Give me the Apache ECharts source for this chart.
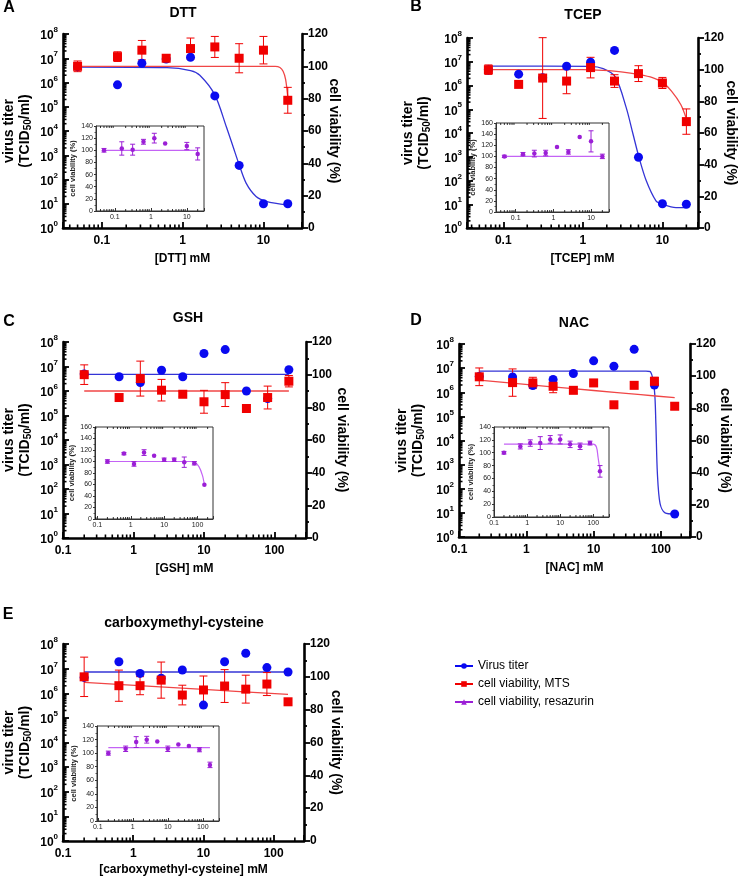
<!DOCTYPE html>
<html>
<head>
<meta charset="utf-8">
<title>Virus titer and cell viability</title>
<script src="https://cdn.jsdelivr.net/npm/echarts@6.0.0/dist/echarts.min.js"></script>
<style>
  html, body { margin: 0; padding: 0; background: #fff; }
  #chart { width: 738px; height: 877px; }
</style>
</head>
<body>
<div id="chart"></div>
<script>
// concentrations (mM)
const concDTT = [0.05, 0.156, 0.3125, 0.625, 1.25, 2.5, 5, 10, 20];
const concTCEP = [0.065, 0.156, 0.3125, 0.625, 1.25, 2.5, 5, 10, 20];
const concInsetDTT = [0.05, 0.156, 0.3125, 0.625, 1.25, 2.5, 10, 20];
const concInsetTCEP = [0.05, 0.156, 0.3125, 0.625, 1.25, 2.5, 5, 10, 20];
const concThiol = [0.2, 0.625, 1.25, 2.5, 5, 10, 20, 40, 80, 160];

// A - DTT
const titerDTT = [4.5e6, 8e5, 6.2e6, 9.3e6, 1.1e7, 2.8e5, 380, 10, 10];
const mtsDTT = [100, 106, 110, 105, 111, 112, 105, 110, 79];
const mtsErrDTT = [3.3, 3, 6, 2, 6.5, 6.5, 9, 8.5, 8];
const resDTT = [100, 103, 101, 114, 120, 111, 107, 94];
const resErrDTT = [3, 11, 9, 4, 8, 0, 6, 10];
const titerFitDTT = [[0.05, 4.3e6], [0.64, 4.1e6], [1.25, 3.1e6], [1.63, 2e6], [2.5, 3.1e5], [3.47, 1.5e4], [4.2, 2.3e3], [5, 410], [6.1, 71], [8.1, 20], [10.8, 12.6], [20, 8.7]];
const mtsFitDTT = [[0.05, 100], [14, 100], [16, 99.3], [17.5, 97], [18.8, 92], [20, 81]];
const resFitDTT = [[0.05, 100], [20, 100]];

// B - TCEP
const titerTCEP = [4.6e6, 3e6, 2.1e6, 6.5e6, 9.5e6, 3e7, 950, 10.5, 10];
const mtsTCEP = [100, 90.7, 94.7, 92.8, 101.3, 92.8, 97.5, 91.6, 67.2];
const mtsErrTCEP = [3, 0, 25.5, 8, 6.5, 4, 5, 3.5, 8];
const resTCEP = [100, 104, 105, 106, 117, 108, 135, 127, 100];
const resErrTCEP = [2, 3, 6, 5, 0, 4, 0, 19, 4];
const titerFitTCEP = [[0.065, 6.6e6], [1.25, 6.4e6], [1.8, 5.1e6], [2.56, 2.3e6], [3.5, 1.2e5], [4.26, 9.3e3], [5.06, 980], [6.25, 100], [8.3, 14], [10, 10], [14.8, 7.2], [20, 7.2]];
const mtsFitTCEP = [[0.065, 100], [1, 100], [1.8, 99.5], [3.2, 98.5], [5, 97], [7.5, 95], [10, 92], [13, 86.5], [17, 78], [20, 69]];
const resFitTCEP = [[0.05, 100], [20, 100]];

// C - GSH
const titerGSH = [5e6, 3.8e6, 2.2e6, 7e6, 3.8e6, 3.4e7, 4.9e7, 1e6, 4.9e5, 7.4e6];
const mtsGSH = [100, 86, 97.6, 90.5, 88, 83.4, 87.8, 79.3, 86, 96];
const mtsErrGSH = [6, 0, 10.7, 6.6, 1.5, 7, 7.3, 0, 7, 3.5];
const resGSH = [100, 113.7, 95.8, 115.5, 110, 103, 103, 98.8, 97, 59.5];
const resErrGSH = [3, 2, 4, 5, 0, 3, 3, 9, 3, 0];
const titerFitGSH = [[0.2, 4.8e6], [160, 4.8e6]];
const mtsFitGSH = [[0.2, 90], [160, 90]];
const resFitGSH = [[0.2, 100], [60, 100], [80, 99], [110, 91], [140, 76], [160, 60]];

// D - NAC
const titerNAC = [4.5e6, 4.3e6, 1.9e6, 3.4e6, 6e6, 2e7, 1.2e7, 6e7, 2e6, 9];
const mtsNAC = [99.6, 96, 95.8, 93.7, 91.2, 95.8, 82.2, 94.3, 96.8, 81.3];
const mtsErrNAC = [5.5, 8.5, 3.5, 4, 2, 0, 0, 0, 2.5, 2];
const resNAC = [100, 109.8, 115, 115, 120.7, 120.7, 113, 110, 115, 71];
const resErrNAC = [2, 4, 5, 10, 6, 7, 5, 5, 3, 9];
const titerFitNAC = [[0.2, 7.5e6], [60, 7.5e6], [70, 7e6], [80, 1.2e6], [84, 5e4], [88.5, 430], [97, 24], [115, 10], [160, 9]];
const mtsFitNAC = [[0.2, 97.5], [2, 93.7], [10, 91.1], [50, 88.5], [160, 86.6]];
const resFitNAC = [[0.2, 113.5], [100, 113.5], [125, 109], [140, 93], [160, 72.5]];

// E - carboxymethyl-cysteine
const titerCMC = [4.4e6, 1.9e7, 6.4e6, 4.1e6, 8.8e6, 3.3e5, 1.9e7, 4.2e7, 1.1e7, 7.3e6];
const mtsCMC = [100, 94.6, 94.6, 98, 88.9, 92, 94.4, 92.5, 95.6, 84.8];
const mtsErrCMC = [12, 9.5, 5.5, 11, 6, 8.5, 10, 8.5, 7, 2];
const resCMC = [100, 106.4, 116.3, 119.8, 117.3, 106.4, 112.8, 110.4, 105, 82.7];
const resErrCMC = [3, 4, 8, 5, 0, 4, 0, 0, 3, 4];
const titerFitCMC = [[0.2, 7.3e6], [160, 7.3e6]];
const mtsFitCMC = [[0.2, 96.6], [10, 92.3], [160, 89.3]];
const resFitCMC = [[0.2, 108], [160, 108]];

const legendNames = ['Virus titer', 'cell viability, MTS', 'cell viability, resazurin'];

const FONT = '"Liberation Sans", Arial, Helvetica, sans-serif';
const BLUE = '#0a0af0', BLUE_LINE = '#3434d6';
const RED = '#f00000', RED_LINE = '#f04646';
const PURPLE = '#9b1fd6', PURPLE_LINE = '#c463f5';

// gaps: [left name, right name, x name]
const panels = [
  { letter: 'A', title: 'DTT', xName: '[DTT] mM', letterPos: [9, 8], titlePos: [183, 13],
    main: { left: 63, top: 34, width: 239, height: 194 }, xRange: [0.033, 30], gaps: [30, 25, 25],
    inset: { left: 96, top: 126, width: 108, height: 85 }, insetX: [0.03, 30], insetYMax: 140,
    conc: concDTT, titer: titerDTT, mts: mtsDTT, mtsErr: mtsErrDTT, titerFit: titerFitDTT, mtsFit: mtsFitDTT,
    insetConc: concInsetDTT, res: resDTT, resErr: resErrDTT, resFit: resFitDTT },
  { letter: 'B', title: 'TCEP', xName: '[TCEP] mM', letterPos: [416, 7], titlePos: [583, 15],
    main: { left: 467, top: 38, width: 231, height: 190 }, xRange: [0.035, 28], gaps: [35, 26, 25],
    inset: { left: 496, top: 123, width: 113, height: 89 }, insetX: [0.03, 30], insetYMax: 160,
    conc: concTCEP, titer: titerTCEP, mts: mtsTCEP, mtsErr: mtsErrTCEP, titerFit: titerFitTCEP, mtsFit: mtsFitTCEP,
    insetConc: concInsetTCEP, res: resTCEP, resErr: resErrTCEP, resFit: resFitTCEP },
  { letter: 'C', title: 'GSH', xName: '[GSH] mM', letterPos: [9, 322], titlePos: [188, 318],
    main: { left: 63, top: 342, width: 243, height: 196 }, xRange: [0.1, 280], gaps: [30, 29, 25],
    inset: { left: 95, top: 427, width: 118, height: 92 }, insetX: [0.085, 290], insetYMax: 160,
    conc: concThiol, titer: titerGSH, mts: mtsGSH, mtsErr: mtsErrGSH, titerFit: titerFitGSH, mtsFit: mtsFitGSH,
    insetConc: concThiol, res: resGSH, resErr: resErrGSH, resFit: resFitGSH },
  { letter: 'D', title: 'NAC', xName: '[NAC] mM', letterPos: [416, 321], titlePos: [574, 323],
    main: { left: 459, top: 344, width: 231, height: 193 }, xRange: [0.1, 270], gaps: [33, 28, 25],
    inset: { left: 494, top: 427, width: 115, height: 90 }, insetX: [0.1, 300], insetYMax: 140,
    conc: concThiol, titer: titerNAC, mts: mtsNAC, mtsErr: mtsErrNAC, titerFit: titerFitNAC, mtsFit: mtsFitNAC,
    insetConc: concThiol, res: resNAC, resErr: resErrNAC, resFit: resFitNAC },
  { letter: 'E', title: 'carboxymethyl-cysteine', xName: '[carboxymethyl-cysteine] mM', letterPos: [8, 615], titlePos: [184, 623],
    main: { left: 63, top: 644, width: 241, height: 197 }, xRange: [0.1, 270], gaps: [30, 25, 23],
    inset: { left: 97, top: 726, width: 122, height: 95 }, insetX: [0.095, 290], insetYMax: 140,
    conc: concThiol, titer: titerCMC, mts: mtsCMC, mtsErr: mtsErrCMC, titerFit: titerFitCMC, mtsFit: mtsFitCMC,
    insetConc: concThiol, res: resCMC, resErr: resErrCMC, resFit: resFitCMC }
];

// 2..9 x 10^k positions for log axis minor ticks
function logMinors(lo, hi) {
  const out = [];
  for (let e = Math.floor(Math.log10(lo)); e <= Math.ceil(Math.log10(hi)); e++) {
    for (let m = 2; m <= 9; m++) {
      const v = m * Math.pow(10, e);
      if (v > lo && v < hi) out.push(v);
    }
  }
  return out;
}

function decadeLabel(v) {
  const e = Math.log10(v);
  return Math.abs(e - Math.round(e)) < 1e-6 ? String(Math.pow(10, Math.round(e))) : '';
}

function minorTickSeries(xIdx, yIdx, values, axis, ref, len, both) {
  return {
    type: 'custom', xAxisIndex: xIdx, yAxisIndex: yIdx, silent: true, z: 3,
    data: values.map(v => axis === 'x' ? [v, ref] : [ref, v]),
    renderItem: function (params, api) {
      const cs = params.coordSys;
      const p = api.coord([api.value(0), api.value(1)]);
      const st = { stroke: '#000', lineWidth: len > 3 ? 1.6 : 0.8 };
      const kids = [];
      if (axis === 'x') {
        const b = cs.y + cs.height;
        kids.push({ type: 'line', shape: { x1: p[0], y1: b, x2: p[0], y2: b - len }, style: st });
        if (both) kids.push({ type: 'line', shape: { x1: p[0], y1: cs.y, x2: p[0], y2: cs.y + len }, style: st });
      } else {
        kids.push({ type: 'line', shape: { x1: cs.x, y1: p[1], x2: cs.x + len, y2: p[1] }, style: st });
      }
      return { type: 'group', children: kids };
    }
  };
}

function errorSeries(xIdx, yIdx, xs, ys, errs, color, cap) {
  return {
    type: 'custom', xAxisIndex: xIdx, yAxisIndex: yIdx, silent: true, z: 4,
    data: xs.map((x, i) => [x, ys[i], errs[i]]).filter(d => d[2] > 0),
    renderItem: function (params, api) {
      const x = api.value(0), y = api.value(1), e = api.value(2);
      const hi = api.coord([x, y + e]), lo = api.coord([x, y - e]);
      const st = { stroke: color, lineWidth: 1 };
      return { type: 'group', children: [
        { type: 'line', shape: { x1: hi[0], y1: hi[1], x2: lo[0], y2: lo[1] }, style: st },
        { type: 'line', shape: { x1: hi[0] - cap, y1: hi[1], x2: hi[0] + cap, y2: hi[1] }, style: st },
        { type: 'line', shape: { x1: lo[0] - cap, y1: lo[1], x2: lo[0] + cap, y2: lo[1] }, style: st }
      ] };
    }
  };
}

const boldTick = { color: '#000', fontSize: 12, fontWeight: 'bold', fontFamily: FONT };
const xNameStyle = { color: '#000', fontSize: 12, fontWeight: 'bold', fontFamily: FONT };
const yNameStyle = { color: '#000', fontSize: 14, fontWeight: 'bold', fontFamily: FONT };
const thickLine = { lineStyle: { color: '#000', width: 2.6 } };

const option = {
  animation: false,
  backgroundColor: '#fff',
  textStyle: { fontFamily: FONT },
  grid: [], xAxis: [], yAxis: [], series: [], graphic: [],
  legend: {
    orient: 'vertical', left: 449, top: 655, itemGap: 6, itemWidth: 18, itemHeight: 7,
    textStyle: { color: '#000', fontSize: 12, fontFamily: FONT },
    data: legendNames
  }
};

// legend-only series
[[legendNames[0], BLUE, 'circle'], [legendNames[1], RED, 'rect'], [legendNames[2], PURPLE, 'triangle']].forEach(function (d) {
  option.series.push({ type: 'line', name: d[0], data: [], symbol: d[2], symbolSize: 6,
    itemStyle: { color: d[1] }, lineStyle: { color: d[1], width: 1.5 } });
});

panels.forEach(function (p) {
  const gMain = option.grid.length;
  option.grid.push(Object.assign({ outerBoundsMode: 'none', containLabel: false }, p.main));
  const gIn = option.grid.length;
  option.grid.push(Object.assign({ outerBoundsMode: 'none', containLabel: false, show: true,
    borderColor: '#333', borderWidth: 1, backgroundColor: '#fff' }, p.inset));

  const xMain = option.xAxis.length;
  option.xAxis.push({
    type: 'log', logBase: 10, gridIndex: gMain, min: p.xRange[0], max: p.xRange[1],
    axisLine: thickLine, splitLine: { show: false },
    axisTick: { inside: true, length: 6, lineStyle: { color: '#000', width: 1.8 } },
    axisLabel: Object.assign({ formatter: decadeLabel, margin: 7 }, boldTick),
    name: p.xName, nameLocation: 'middle', nameGap: p.gaps[2], nameTextStyle: xNameStyle
  });
  const xIn = option.xAxis.length;
  option.xAxis.push({
    type: 'log', logBase: 10, gridIndex: gIn, min: p.insetX[0], max: p.insetX[1],
    axisLine: { lineStyle: { color: '#333', width: 1 } }, splitLine: { show: false },
    axisTick: { inside: true, length: 3, lineStyle: { color: '#333', width: 1 } },
    axisLabel: { formatter: decadeLabel, margin: 3, color: '#222', fontSize: 7, fontFamily: FONT }
  });

  const yLog = option.yAxis.length;
  option.yAxis.push({
    type: 'log', logBase: 10, gridIndex: gMain, position: 'left', min: 1, max: 1e8,
    axisLine: thickLine, splitLine: { show: false },
    axisTick: { inside: true, length: 6, lineStyle: { color: '#000', width: 1.8 } },
    axisLabel: {
      margin: 5,
      formatter: v => '{b|10}{s|' + Math.round(Math.log10(v)) + '}',
      rich: {
        b: { color: '#000', fontSize: 12, fontWeight: 'bold', fontFamily: FONT, lineHeight: 16, verticalAlign: 'bottom' },
        s: { color: '#000', fontSize: 8, fontWeight: 'bold', fontFamily: FONT, lineHeight: 8, verticalAlign: 'top' }
      }
    },
    name: 'virus titer\n(TCID{sub|50}/ml)', nameLocation: 'middle', nameRotate: 90, nameGap: p.gaps[0],
    nameTextStyle: Object.assign({ lineHeight: 16, rich: {
      sub: { color: '#000', fontSize: 10, fontWeight: 'bold', fontFamily: FONT, lineHeight: 10, verticalAlign: 'bottom' }
    } }, yNameStyle)
  });
  const yPct = option.yAxis.length;
  option.yAxis.push({
    type: 'value', gridIndex: gMain, position: 'right', min: 0, max: 120, interval: 20,
    axisLine: Object.assign({ show: true }, thickLine), splitLine: { show: false },
    axisTick: { show: true, length: 6, lineStyle: { color: '#000', width: 1.8 } },
    minorTick: { show: true, splitNumber: 2, length: 3, lineStyle: { color: '#000', width: 1.8 } },
    axisLabel: Object.assign({ margin: 6 }, boldTick),
    name: 'cell viability (%)', nameLocation: 'middle', nameRotate: -90, nameGap: p.gaps[1],
    nameMoveOverlap: false, nameTextStyle: yNameStyle
  });
  const yIn = option.yAxis.length;
  option.yAxis.push({
    type: 'value', gridIndex: gIn, min: 0, max: p.insetYMax, interval: 20,
    axisLine: { show: true, lineStyle: { color: '#333', width: 1 } }, splitLine: { show: false },
    axisTick: { show: true, length: 2, lineStyle: { color: '#333', width: 1 } },
    minorTick: { show: true, splitNumber: 2, length: 1.5, lineStyle: { color: '#333', width: 0.8 } },
    axisLabel: { margin: 3, color: '#222', fontSize: 7, fontFamily: FONT },
    name: 'cell viability (%)', nameLocation: 'middle', nameRotate: 90, nameGap: 14,
    nameTextStyle: { color: '#222', fontSize: 7.5, fontWeight: 'bold', fontFamily: FONT }
  });

  // minor ticks
  option.series.push(minorTickSeries(xMain, yLog, logMinors(p.xRange[0], p.xRange[1]), 'x', 1, 3.5, false));
  option.series.push(minorTickSeries(xMain, yLog, logMinors(1, 1e8), 'y', p.xRange[0], 3.5, false));
  option.series.push(minorTickSeries(xIn, yIn, logMinors(p.insetX[0], p.insetX[1]), 'x', 50, 2, true));

  // fitted curves
  option.series.push({ type: 'line', name: p.letter + ' titer fit', xAxisIndex: xMain, yAxisIndex: yLog,
    data: p.titerFit, smooth: 0.3, symbol: 'none', silent: true, z: 3,
    lineStyle: { color: BLUE_LINE, width: 1.3 } });
  option.series.push({ type: 'line', name: p.letter + ' MTS fit', xAxisIndex: xMain, yAxisIndex: yPct,
    data: p.mtsFit, smooth: 0.3, symbol: 'none', silent: true, z: 3,
    lineStyle: { color: RED_LINE, width: 1.3 } });
  option.series.push({ type: 'line', name: p.letter + ' resazurin fit', xAxisIndex: xIn, yAxisIndex: yIn,
    data: p.resFit, smooth: 0.3, symbol: 'none', silent: true, z: 3,
    lineStyle: { color: PURPLE_LINE, width: 1.2 } });

  // error bars
  option.series.push(errorSeries(xMain, yPct, p.conc, p.mts, p.mtsErr, RED, 4));
  option.series.push(errorSeries(xIn, yIn, p.insetConc, p.res, p.resErr, PURPLE, 2.5));

  // points
  option.series.push({ type: 'scatter', name: p.letter + ' titer', xAxisIndex: xMain, yAxisIndex: yLog,
    data: p.conc.map((x, i) => [x, p.titer[i]]), symbol: 'circle', symbolSize: 9, z: 5,
    itemStyle: { color: BLUE, opacity: 1 } });
  option.series.push({ type: 'scatter', name: p.letter + ' MTS', xAxisIndex: xMain, yAxisIndex: yPct,
    data: p.conc.map((x, i) => [x, p.mts[i]]), symbol: 'rect', symbolSize: 9, z: 5,
    itemStyle: { color: RED, opacity: 1 } });
  option.series.push({ type: 'scatter', name: p.letter + ' resazurin', xAxisIndex: xIn, yAxisIndex: yIn,
    data: p.insetConc.map((x, i) => [x, p.res[i]]), symbol: 'circle', symbolSize: 4.5, z: 5,
    itemStyle: { color: PURPLE, opacity: 1 } });

  // panel letter and title
  option.graphic.push({ type: 'text', x: p.letterPos[0], y: p.letterPos[1], silent: true,
    style: { text: p.letter, fill: '#000', font: 'bold 16px ' + FONT, align: 'center', verticalAlign: 'middle' } });
  option.graphic.push({ type: 'text', x: p.titlePos[0], y: p.titlePos[1], silent: true,
    style: { text: p.title, fill: '#000', font: 'bold 14px ' + FONT, align: 'center', verticalAlign: 'middle' } });
});

const chart = echarts.init(document.getElementById('chart'), null, { renderer: 'canvas' });
chart.setOption(option);
</script>
</body>
</html>
